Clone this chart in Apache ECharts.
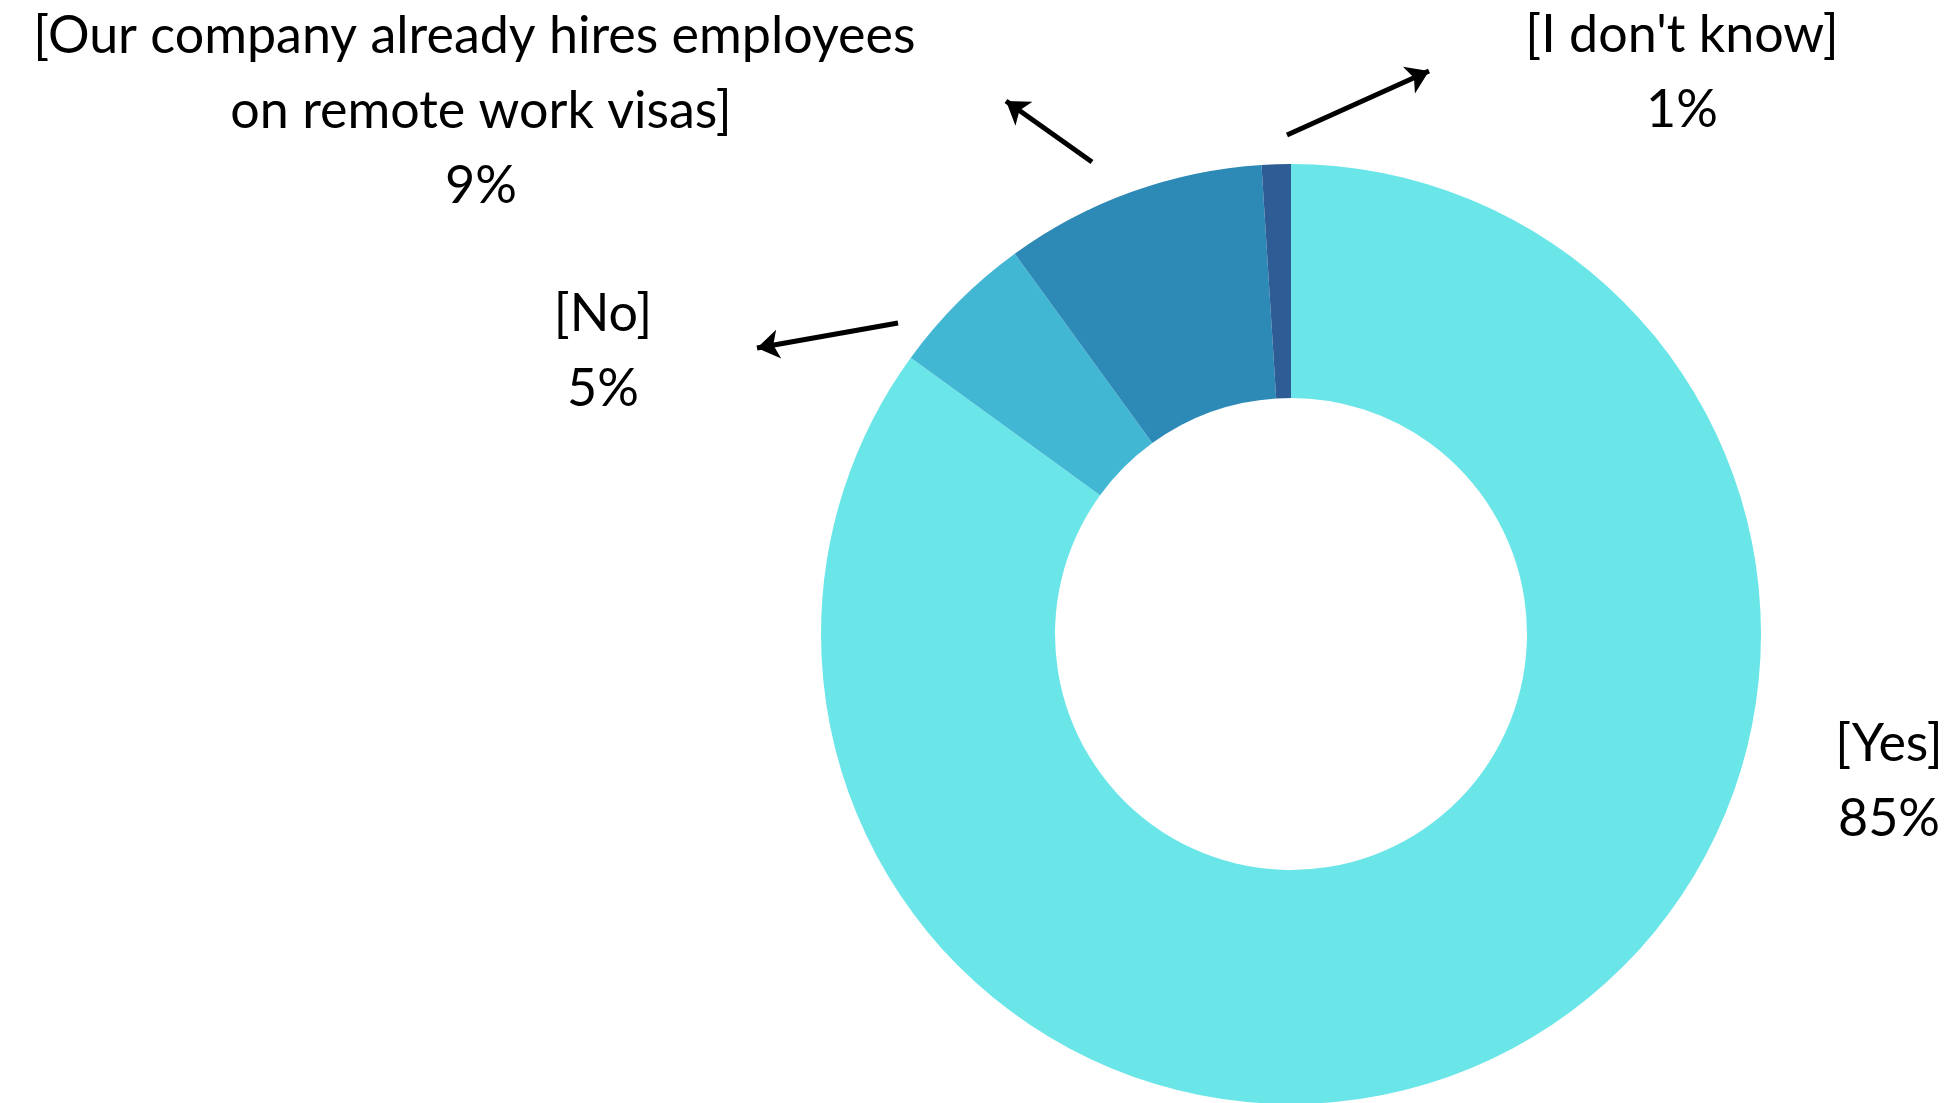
<!DOCTYPE html>
<html>
<head>
<meta charset="utf-8">
<script src="https://cdn.jsdelivr.net/npm/echarts@6/dist/echarts.min.js"></script>
<style>
  html, body { margin: 0; padding: 0; background: #ffffff; }
  #chart { width: 1955px; height: 1103px; }
</style>
</head>
<body>
<div id="chart"></div>
<script>
// ---- data ----
const categories = ['[Yes]', '[No]', '[Our company already hires employees on remote work visas]', "[I don't know]"];
const values = [85, 5, 9, 1];
const colors = ['#6ae5e8', '#42b7d4', '#2d8ab7', '#2e5d96'];

// ---- annotation layout (pixels) ----
const labelPos = [[1889, 782], [603, 352], [481, 111], [1682, 73]];
const arrows = [
  [[898, 323], [757, 348]],
  [[1092, 162], [1006, 101]],
  [[1287, 135], [1429, 71]]
];

const chart = echarts.init(document.getElementById('chart'), null, { renderer: 'canvas' });

const pieData = categories.map((c, i) => ({
  name: c,
  value: values[i],
  itemStyle: { color: colors[i] },
  label: i === 2 ? { width: 915, overflow: 'break' } : {}
}));

const option = {
  backgroundColor: '#ffffff',
  animation: false,
  grid: { left: 0, right: 0, top: 0, bottom: 0 },
  xAxis: { type: 'value', min: 0, max: 1955, show: false },
  yAxis: { type: 'value', min: 0, max: 1103, inverse: true, show: false },
  series: [
    {
      type: 'pie',
      center: [1291, 634],
      radius: [236, 470],
      startAngle: 90,
      clockwise: true,
      avoidLabelOverlap: false,
      data: pieData,
      itemStyle: { borderWidth: 0 },
      label: {
        show: true,
        position: 'inside',
        formatter: '{b}\n{d}%',
        color: '#000000',
        fontFamily: 'Lato',
        fontSize: 52,
        lineHeight: 75,
        align: 'center'
      },
      labelLine: { show: false },
      labelLayout: function (p) {
        return { x: labelPos[p.dataIndex][0], y: labelPos[p.dataIndex][1] };
      },
      emphasis: { disabled: true }
    },
    {
      type: 'lines',
      coordinateSystem: 'cartesian2d',
      symbol: ['none', 'arrow'],
      symbolSize: 22,
      lineStyle: { color: '#000000', width: 5, opacity: 1 },
      data: arrows.map(a => ({ coords: a })),
      silent: true,
      z: 5
    }
  ]
};
chart.setOption(option);
</script>
</body>
</html>
